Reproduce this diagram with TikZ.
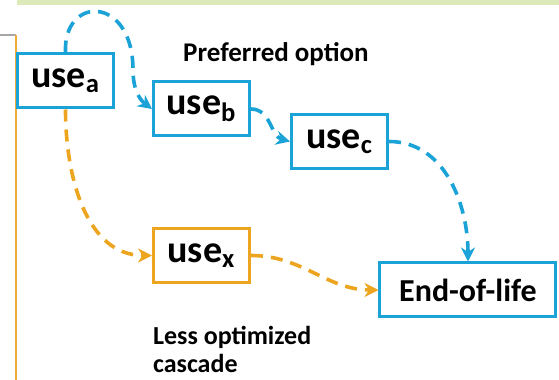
\documentclass[tikz,border=0pt]{standalone}
\usepackage{fontspec}
\setmainfont{Carlito}
\usetikzlibrary{arrows.meta}

\definecolor{cascblue}{HTML}{1BA3D8}
\definecolor{cascorange}{HTML}{EDA41E}
\definecolor{bandgreen}{HTML}{DCE9B8}

\begin{document}
\begin{tikzpicture}[x=0.5pt,y=-0.5pt]
		\useasboundingbox (0,0) rectangle (559,380);
		% cropped edges
		\fill[bandgreen] (17,0) rectangle (559,5);
		\draw[gray!70,line width=0.6pt] (0,35) -- (16,35);
		\draw[cascorange!90,line width=0.6pt] (16,35) -- (16,380);
		
		\begin{scope}[every node/.style={rectangle,line width=1.5pt,fill=white,
				font=\bfseries\fontsize{19}{21}\selectfont,
				minimum width=48pt,minimum height=27pt}]
			\node[draw=cascblue] (usea) at (65.5,81) {use\textsubscript{a}};
			\node[draw=cascblue] (useb) at (201.5,109) {use\textsubscript{b}};
			\node[draw=cascblue] (usec) at (339.5,141.5) {use\textsubscript{c}};
			\node[draw=cascorange] (usex) at (201.5,255.5) {use\textsubscript{x}};
			\node[draw=cascblue,minimum width=88pt,font=\bfseries\fontsize{16}{18}\selectfont]
				(eol) at (468,290) {End-of-life};
		\end{scope}
		
		\node[font=\bfseries\fontsize{13.5}{15}\selectfont] (pref) at (276,54) {Preferred option};
		\node[font=\bfseries\fontsize{13}{14}\selectfont,align=left,anchor=north west]
			(less) at (146,319) {Less optimized\\cascade};
		
		\begin{scope}[>={Stealth[length=7pt,width=7pt]},
			every edge/.style={draw,line width=1.8pt,dash pattern=on 6pt off 4pt}]
			\draw [->,cascblue,line width=1.8pt,dash pattern=on 6pt off 4pt] (usea.north)
				.. controls (63,-5) and (133,-5) .. (133,70)
				.. controls (133,90) and (140,100) .. (useb.west);
			\path [->] (useb.east) edge[cascblue,out=0,in=165] (usec.west);
			\path [->] (usec.east) edge[cascblue,out=0,in=90] (eol.north);
			\path [->] (usea.south) edge[cascorange,out=-90,in=180] (usex.west);
			\path [->] (usex.east) edge[cascorange,out=0,in=180] (eol.west);
		\end{scope}
	\end{tikzpicture}
\end{document}
